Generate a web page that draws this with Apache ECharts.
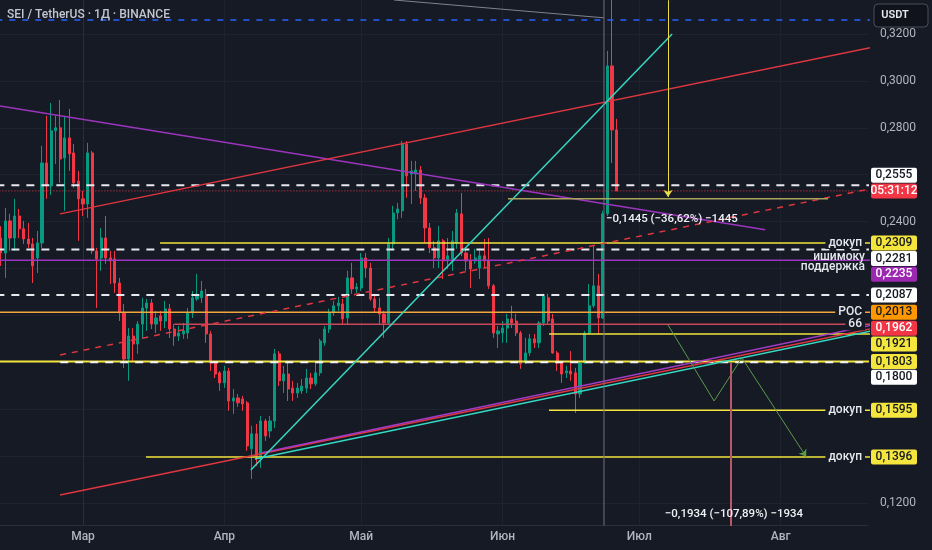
<!DOCTYPE html>
<html><head><meta charset="utf-8">
<script src="https://cdn.jsdelivr.net/npm/echarts@6/dist/echarts.min.js"></script>
<style>html,body{margin:0;padding:0;background:#161a25;}#c{width:932px;height:550px;}</style>
</head><body><div id="c"></div>
<script>
// ---------- DATA ----------
// day index counted from 1 Mar 2025 (first candle = 11 Feb 2025)
const firstDay = -18;
const opens = [0.2330,0.2266,0.2403,0.2330,0.2424,0.2369,0.2326,0.2305,0.2245,0.2309,0.2650,0.2552,0.2787,0.2800,0.2671,0.2757,0.2693,0.2573,
0.2497,0.2475,0.2693,0.2275,0.2245,0.2330,0.2245,0.2241,0.2138,0.2011,0.1814,0.1912,0.1878,0.1963,0.2032,0.2053,0.1963,0.1998,0.1976,0.2028,0.1942,0.1912,0.1921,0.1925,0.2011,0.2070,0.2075,0.2083,0.1921,0.1797,0.1755,
0.1712,0.1763,0.1635,0.1648,0.1644,0.1627,0.1431,0.1495,0.1401,0.1550,0.1507,0.1550,0.1836,0.1721,0.1750,0.1690,0.1669,0.1678,0.1690,0.1733,0.1708,0.1755,0.1883,0.1942,0.2011,0.2041,0.2049,0.1989,0.2160,0.2113,
0.2117,0.2245,0.2202,0.2070,0.2032,0.2006,0.1968,0.2305,0.2437,0.2446,0.2731,0.2603,0.2603,0.2620,0.2501,0.2373,0.2288,0.2245,0.2318,0.2232,0.2232,0.2309,0.2433,0.2266,0.2232,0.2232,0.2202,0.2254,0.2232,0.2126,0.1921,
0.1925,0.1946,0.1985,0.1976,0.1925,0.1797,0.1840,0.1900,0.1883,0.1968,0.2075,0.1985,0.1840,0.1797,0.1755,0.1763,0.1755,0.1665,0.1797,0.1925,0.2041,0.2126,0.1989,0.2433,0.3064,0.2791];
const closes = [0.2266,0.2403,0.2330,0.2424,0.2369,0.2326,0.2305,0.2211,0.2309,0.2650,0.2552,0.2787,0.2800,0.2667,0.2757,0.2689,0.2565,0.2497,
0.2475,0.2693,0.2275,0.2241,0.2330,0.2245,0.2232,0.2138,0.2011,0.1814,0.1912,0.1878,0.1963,0.2032,0.2053,0.1963,0.1989,0.1976,0.2028,0.1942,0.1912,0.1925,0.1934,0.2011,0.2075,0.2083,0.2104,0.1921,0.1797,0.1750,0.1712,
0.1763,0.1635,0.1648,0.1627,0.1622,0.1443,0.1495,0.1401,0.1550,0.1486,0.1550,0.1836,0.1721,0.1750,0.1686,0.1669,0.1690,0.1699,0.1733,0.1708,0.1755,0.1891,0.1942,0.2011,0.2041,0.2053,0.1985,0.2160,0.2113,0.2121,
0.2245,0.2202,0.2070,0.2032,0.2006,0.1968,0.2305,0.2437,0.2454,0.2731,0.2595,0.2616,0.2620,0.2501,0.2373,0.2288,0.2245,0.2318,0.2232,0.2254,0.2318,0.2437,0.2266,0.2232,0.2198,0.2245,0.2254,0.2232,0.2126,0.1925,
0.1934,0.1946,0.1985,0.1968,0.1925,0.1793,0.1840,0.1900,0.1883,0.1968,0.2083,0.1976,0.1840,0.1797,0.1750,0.1763,0.1750,0.1665,0.1797,0.1925,0.2041,0.2126,0.1989,0.2433,0.3064,0.2791,0.2531];
const lows = [0.2211,0.2160,0.2275,0.2275,0.2330,0.2305,0.2288,0.2138,0.2181,0.2288,0.2497,0.2514,0.2646,0.2565,0.2446,0.2616,0.2544,0.2318,
0.2424,0.2416,0.2262,0.2032,0.2190,0.2220,0.2134,0.2096,0.1976,0.1776,0.1721,0.1806,0.1836,0.1900,0.1934,0.1942,0.1925,0.1934,0.1946,0.1904,0.1870,0.1891,0.1900,0.1900,0.1989,0.2062,0.2053,0.1883,0.1763,0.1733,0.1678,
0.1691,0.1593,0.1580,0.1610,0.1593,0.1422,0.1302,0.1358,0.1350,0.1465,0.1478,0.1520,0.1699,0.1669,0.1635,0.1635,0.1648,0.1665,0.1669,0.1686,0.1699,0.1742,0.1870,0.1925,0.1998,0.2019,0.1963,0.1963,0.2092,0.2096,
0.2104,0.2160,0.2062,0.2011,0.1963,0.1904,0.1963,0.2284,0.2410,0.2416,0.2501,0.2475,0.2531,0.2475,0.2309,0.2266,0.2202,0.2202,0.2155,0.2198,0.2190,0.2284,0.2253,0.2190,0.2117,0.2220,0.2155,0.2202,0.2113,0.1904,
0.1861,0.1883,0.1883,0.1946,0.1912,0.1772,0.1793,0.1827,0.1861,0.1861,0.1955,0.1963,0.1836,0.1763,0.1712,0.1733,0.1721,0.1584,0.1648,0.1793,0.1921,0.2032,0.1921,0.1985,0.2424,0.2650,0.2531];
const highs = [0.2381,0.2458,0.2433,0.2497,0.2454,0.2403,0.2394,0.2330,0.2360,0.2723,0.2851,0.2906,0.2851,0.2919,0.2851,0.2881,0.2731,0.2616,
0.2531,0.2736,0.2701,0.2288,0.2373,0.2424,0.2275,0.2275,0.2160,0.2049,0.1946,0.1946,0.1976,0.2075,0.2070,0.2070,0.2019,0.2019,0.2062,0.2049,0.1963,0.1955,0.1968,0.2032,0.2104,0.2177,0.2147,0.2113,0.1934,0.1806,0.1763,
0.1785,0.1776,0.1686,0.1665,0.1657,0.1635,0.1529,0.1537,0.1571,0.1559,0.1571,0.1857,0.1848,0.1785,0.1806,0.1721,0.1712,0.1729,0.1772,0.1755,0.1797,0.1900,0.1955,0.2028,0.2062,0.2079,0.2070,0.2190,0.2224,0.2138,
0.2266,0.2266,0.2224,0.2092,0.2075,0.2019,0.2330,0.2467,0.2480,0.2744,0.2744,0.2659,0.2659,0.2637,0.2518,0.2394,0.2318,0.2382,0.2326,0.2330,0.2360,0.2454,0.2522,0.2284,0.2262,0.2284,0.2284,0.2326,0.2330,0.2134,
0.1955,0.1976,0.2006,0.2041,0.2006,0.1934,0.1904,0.1921,0.1921,0.1976,0.2092,0.2092,0.2006,0.1848,0.1806,0.1785,0.1848,0.1776,0.1806,0.1934,0.2134,0.2296,0.2177,0.2446,0.3128,0.3500,0.2838];

const monthStarts = [0, 31, 61, 92, 122, 153];
const monthLabels = ['Мар', 'Апр', 'Май', 'Июн', 'Июл', 'Авг'];
const priceTicks = [0.12, 0.24, 0.28, 0.30, 0.32];
const priceGrid = [0.12, 0.14, 0.16, 0.18, 0.20, 0.22, 0.24, 0.26, 0.28, 0.30, 0.32];

// horizontal levels
const levelPrices = [0.3260, 0.2555, 0.2531, 0.2309, 0.2281, 0.2235, 0.2087, 0.2013, 0.1962, 0.1921, 0.1803, 0.1800, 0.1595, 0.1396];
const levelStartDays = [-19, -19, -19, 16.9, -19, -19, -19, -19, 20, 102.2, -19, -5, 102.2, 13.8];

// drawn trend lines [day, price]
const purpleFallPts = [[-18.2, 0.2893], [149.6, 0.2365]];
const channelTopPts = [[-5.04, 0.2433], [180, 0.3171]];
const channelMidPts = [[-5.04, 0.1831], [180, 0.2569]];
const channelLowPts = [[-5.04, 0.1234], [180, 0.1972]];
const purpleRisePts = [[39.3, 0.1414], [180, 0.1987]];
const cyanRisePts = [[37.7, 0.1388], [180, 0.1962]];
const cyanSteepPts = [[36.8, 0.1341], [129.2, 0.3200]];
const greyTopPts = [[68.2, 0.3345], [114.25, 0.3269]];
const greyVertPts = [[114.25, 0.3345], [114.25, 0.1102]];
const oliveLinePts = [[93.2, 0.2497], [163.4, 0.2497]];
const zigzagPts = [[128.3, 0.1959], [138.4, 0.1635], [144.5, 0.1819], [158.6, 0.1397]];
const yellowMeasurePts = [[128.3, 0.3344], [128.3, 0.2505]];
const pinkMeasurePts = [[142.1, 0.1797], [142.1, 0.1102]];

// price tags on the right scale
const tagPrices = [0.2555, 0.2531, 0.2309, 0.2281, 0.2235, 0.2087, 0.2013, 0.1962, 0.1921, 0.1803, 0.1800, 0.1595, 0.1396];
const tagTexts = ['0,2555', '05:31:12', '0,2309', '0,2281', '0,2235', '0,2087', '0,2013', '0,1962', '0,1921', '0,1803', '0,1800', '0,1595', '0,1396'];

// text labels on the levels
const levelTexts = ['докуп', 'ишимоку', 'поддержка', 'POC', '66', 'докуп', 'докуп'];
const levelTextPrices = [0.2309, 0.2281, 0.2235, 0.2013, 0.1962, 0.1595, 0.1396];

// measurement texts
const measureTexts = ['\u22120,1445 (\u221236,62%) \u22121445', '\u22120,1934 (\u2212107,89%) \u22121934'];
const measureAnchors = [[114.7, 0.2411], [127.6, 0.1153]];

const titleText = 'SEI / TetherUS · 1Д · BINANCE';
const currencyText = 'USDT';

// ---------- STYLES ----------
const BG = '#161a25';
const UP = '#089981', DOWN = '#f23645';
const WHITE_DASH = {color: '#e6e8ee', width: 2, type: [8, 7]};
const YEL = '#f2e43a';
const levelStyles = [
  {color: '#2962ff', width: 1.5, type: [6, 7]},
  WHITE_DASH,
  {color: '#f23645', width: 1, type: [1, 2]},
  {color: YEL, width: 1.5, type: 'solid'},
  WHITE_DASH,
  {color: '#9c35bd', width: 1.5, type: 'solid'},
  WHITE_DASH,
  {color: '#f0a63a', width: 1.5, type: 'solid'},
  {color: '#c9485a', width: 1.5, type: 'solid'},
  {color: YEL, width: 1.5, type: 'solid'},
  {color: YEL, width: 2, type: 'solid'},
  {color: '#f2f2f2', width: 2, type: [8, 7]},
  {color: YEL, width: 1.5, type: 'solid'},
  {color: YEL, width: 1.5, type: 'solid'}
];
const tagStyles = [
  {bg: '#ffffff', fg: '#131722', dy: -10},
  {bg: '#f23645', fg: '#ffffff', dy: 0},
  {bg: '#f5e63d', fg: '#131722', dy: 0},
  {bg: '#ffffff', fg: '#131722', dy: 9},
  {bg: '#9c27b0', fg: '#ffffff', dy: 14},
  {bg: '#ffffff', fg: '#131722', dy: 0},
  {bg: '#ff9800', fg: '#131722', dy: 0},
  {bg: '#f23645', fg: '#ffffff', dy: 4},
  {bg: '#f5e63d', fg: '#131722', dy: 10},
  {bg: '#f5e63d', fg: '#131722', dy: 0},
  {bg: '#ffffff', fg: '#131722', dy: 15},
  {bg: '#f5e63d', fg: '#131722', dy: 0},
  {bg: '#f5e63d', fg: '#131722', dy: 0}
];
const levelTextStyles = [
  {dy: 0, bg: true}, {dy: 7, bg: false}, {dy: 7, bg: false}, {dy: 0, bg: true},
  {dy: 0, bg: true}, {dy: 0, bg: true}, {dy: 0, bg: true}
];

const pxPerUnit = 2345;             // vertical scale
const yMax = 0.32 + 34 / pxPerUnit; // top edge of the pane
const yMin = yMax - 525 / pxPerUnit;
const xMin = -83 / 4.56, xMax = 785 / 4.56;
const FONT = 'Roboto, "Liberation Sans", sans-serif';
const fmtPrice = v => v.toFixed(4).replace('.', ',');

// ---------- CHART ----------
const chart = echarts.init(document.getElementById('c'));
const candleData = opens.map((o, i) => [firstDay + i, o, closes[i], lows[i], highs[i]]);

function seg(pts, style, extra) {
  return Object.assign({
    type: 'line', data: pts, symbol: 'none', silent: true, animation: false,
    lineStyle: style, z: 3, clip: true
  }, extra || {});
}

const series = [{
  type: 'candlestick', data: candleData, encode: {x: 0, y: [1, 2, 3, 4]},
  barWidth: 2.6, silent: true, animation: false, clip: true,
  itemStyle: {color: UP, color0: DOWN, borderColor: UP, borderColor0: DOWN, borderWidth: 1}
}];
levelPrices.forEach((v, i) => {
  series.push(seg([[levelStartDays[i], v], [xMax + 3, v]], levelStyles[i]));
});
series.push(seg(purpleFallPts, {color: '#9c35bd', width: 1.5}));
series.push(seg(channelTopPts, {color: '#e0363f', width: 1.5}));
series.push(seg(channelMidPts, {color: '#e0363f', width: 1.5, type: [6, 6]}));
series.push(seg(channelLowPts, {color: '#e0363f', width: 1.5}));
series.push(seg(purpleRisePts, {color: '#a23cc8', width: 1.5}));
series.push(seg(cyanRisePts, {color: '#36d8c2', width: 1.5}));
series.push(seg(cyanSteepPts, {color: '#36d8c2', width: 1.5}));
series.push(seg(greyTopPts, {color: '#80838c', width: 1}));
series.push(seg(greyVertPts, {color: '#6f727c', width: 1}));
series.push(seg(oliveLinePts, {color: '#a9a45c', width: 1.5}));
series.push(seg(zigzagPts.slice(0, 3), {color: '#5b9a4a', width: 1}));
series.push(seg([], {color: '#5b9a4a', width: 1}, {
  markLine: {silent: true, animation: false, symbol: ['none', 'arrow'], symbolSize: 7, label: {show: false},
    lineStyle: {color: '#5b9a4a', width: 1, type: 'solid'},
    data: [[{coord: zigzagPts[2]}, {coord: zigzagPts[3]}]]}
}));
series.push(seg([], {color: YEL, width: 1}, {
  markLine: {silent: true, animation: false, symbol: ['none', 'arrow'], symbolSize: 7, label: {show: false},
    lineStyle: {color: '#e8dc4a', width: 1, type: 'solid'},
    data: [[{coord: yellowMeasurePts[0]}, {coord: yellowMeasurePts[1]}]]}
}));
series.push(seg(pinkMeasurePts, {color: '#b8576a', width: 2}));

const option = {
  backgroundColor: BG,
  animation: false,
  grid: {left: 0, right: 64, top: 0, bottom: 25, outerBoundsMode: 'none'},
  xAxis: {
    type: 'value', min: xMin, max: xMax,
    axisLine: {show: true, lineStyle: {color: '#2a2e39'}},
    axisTick: {show: false, customValues: monthStarts},
    axisLabel: {customValues: monthStarts, formatter: v => monthLabels[monthStarts.indexOf(v)] || '',
      color: '#b2b5be', fontSize: 12, fontFamily: FONT, fontWeight: 500, margin: 6},
    splitLine: {show: true, lineStyle: {color: '#1e2230', width: 1}}
  },
  yAxis: {
    type: 'value', position: 'right', min: yMin, max: yMax, scale: true,
    axisLine: {show: true, lineStyle: {color: '#2a2e39'}},
    axisTick: {show: false, customValues: priceGrid},
    axisLabel: {customValues: priceTicks, formatter: fmtPrice, color: '#b2b5be', fontSize: 12, fontFamily: FONT, margin: 12},
    splitLine: {show: true, lineStyle: {color: '#1e2230', width: 1}}
  },
  series: series
};
chart.setOption(option);

// ---------- OVERLAY TEXTS / TAGS ----------
const px = (d, p) => chart.convertToPixel({gridIndex: 0}, [d, p]);
const paneRight = px(xMax, yMax)[0];
const g = [];
g.push({type: 'text', x: 7, y: 15, z: 100,
  style: {text: titleText, fill: '#c3c6ce', fontSize: 12, fontFamily: FONT, fontWeight: 500, verticalAlign: 'middle'}});
g.push({type: 'rect', x: 874, y: 4, z: 100, shape: {width: 54, height: 23, r: 4},
  style: {fill: '#10131b', stroke: '#4a4e5a', lineWidth: 1}});
g.push({type: 'text', x: 895, y: 15.5, z: 101,
  style: {text: currencyText, fill: '#e6e8ee', fontSize: 11, fontFamily: FONT, fontWeight: 600, align: 'center', verticalAlign: 'middle'}});

tagPrices.forEach((v, i) => {
  const y = px(0, v)[1] + tagStyles[i].dy;
  g.push({type: 'rect', x: paneRight + 3, y: y - 7.5, z: 100, shape: {width: 46, height: 15, r: 2},
    style: {fill: tagStyles[i].bg}});
  g.push({type: 'text', x: paneRight + 26, y: y, z: 101,
    style: {text: tagTexts[i], fill: tagStyles[i].fg, fontSize: 12, fontFamily: FONT, fontWeight: 500, align: 'center', verticalAlign: 'middle'}});
});

levelTexts.forEach((t, i) => {
  const y = px(0, levelTextPrices[i])[1] + levelTextStyles[i].dy;
  const st = {text: t, fill: '#e6e8ee', fontSize: 12, fontFamily: FONT, fontWeight: 500, align: 'right', verticalAlign: 'middle'};
  if (levelTextStyles[i].bg) { st.backgroundColor = BG; st.padding = [0, 3, 0, 3]; }
  g.push({type: 'text', x: paneRight - 3, y: y, z: 90, style: st});
});

measureTexts.forEach((t, i) => {
  const p = px(measureAnchors[i][0], measureAnchors[i][1]);
  g.push({type: 'text', x: p[0], y: p[1], z: 90,
    style: {text: t, fill: '#eef0f4', fontSize: 11.5, fontFamily: FONT, fontWeight: 500, verticalAlign: 'middle'}});
});

chart.setOption({graphic: g});
</script>
</body></html>
